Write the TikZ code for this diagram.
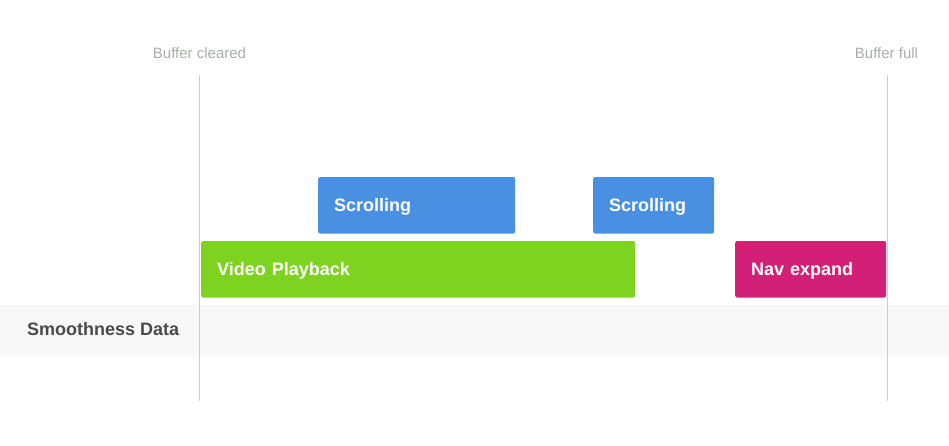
\documentclass[tikz,border=0pt]{standalone}
\usepackage{fontspec}
\setmainfont{Liberation Sans}
\usetikzlibrary{positioning}

\definecolor{azul}{HTML}{4A90E2}
\definecolor{verde}{HTML}{7ED321}
\definecolor{magenta}{HTML}{D32077}
\definecolor{banda}{HTML}{F8F8F8}
\definecolor{linea}{HTML}{CCCCCC}
\definecolor{etiqueta}{HTML}{A8ADA8}
\definecolor{oscuro}{HTML}{4A4A4A}

\begin{document}
\begin{tikzpicture}[x=1pt, y=-1pt]

	\tikzstyle{evento}=[rounded corners=2pt, minimum height=56.5pt, inner xsep=16pt, inner ysep=0pt, anchor=west, align=left, text=white, text height=13pt, text depth=0pt, font=\fontsize{18}{20}\selectfont\bfseries]
	\tikzstyle{marca}=[inner sep=0pt, text=etiqueta, text height=10.7pt, text depth=0pt, font=\fontsize{15}{17}\selectfont]
	\tikzstyle{limite}=[linea, line width=1pt]

	\useasboundingbox (0, 0) rectangle (949, 446);

	\coordinate (c_top) at (199.5, 75); % BUFFER CLEARED
	\coordinate (c_bot) at (199.5, 401);
	\coordinate (f_top) at (887.3, 75); % BUFFER FULL
	\coordinate (f_bot) at (887.3, 401);

	\coordinate (s_1) at (318, 205.3); % SCROLLING
	\coordinate (s_2) at (593, 205.3); % SCROLLING
	\coordinate (v_1) at (201, 269.3); % VIDEO
	\coordinate (n_1) at (735, 269.3); % NAV

	\fill[banda] (0, 305) rectangle (949, 357);
	\node[inner sep=0pt, anchor=west, text=oscuro, text height=13pt, text depth=0pt, font=\fontsize{18}{20}\selectfont\bfseries] (smooth) at (27, 329.2) {Smoothness Data};

	\node[marca] (cleared) at (199.5, 53) {Buffer cleared};
	\node[marca] (full) at (886.5, 53) {Buffer full};

	\draw[limite] (c_top) -- (c_bot);
	\draw[limite] (f_top) -- (f_bot);

	\node[evento, fill=azul, text width=165pt] (s_1) at (s_1) {Scrolling};
	\node[evento, fill=azul, text width=89pt] (s_2) at (s_2) {Scrolling};
	\node[evento, fill=verde, text width=402pt] (v_1) at (v_1) {Video Playback};
	\node[evento, fill=magenta, text width=119pt] (n_1) at (n_1) {Nav expand};

\end{tikzpicture}
\end{document}
